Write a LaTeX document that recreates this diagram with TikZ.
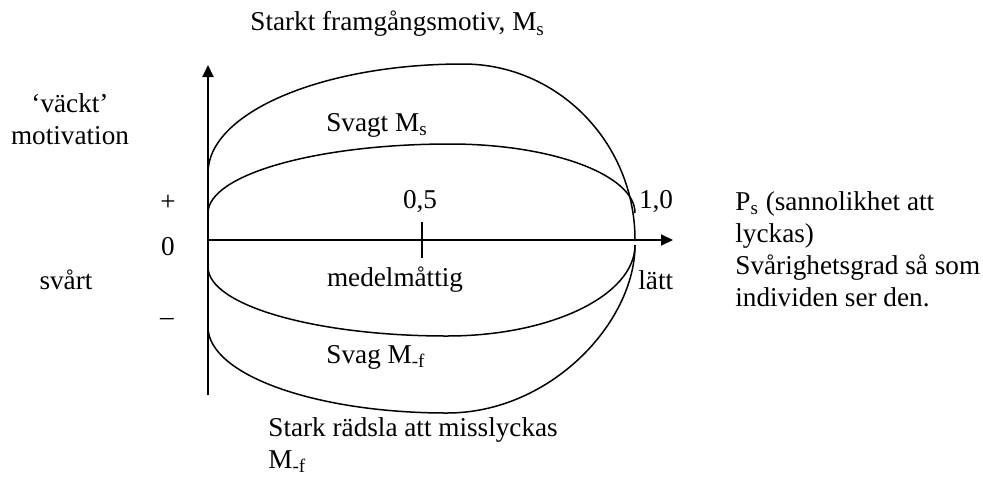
\documentclass[tikz,border=0pt]{standalone}
\usepackage{fontspec}
\setmainfont{Liberation Serif}
\usetikzlibrary{arrows.meta,positioning}

\begin{document}
\begin{tikzpicture}[x=0.5pt,y=-0.5pt,
    lbl/.style={inner sep=0pt,font=\fontsize{13.6}{16}\selectfont},
    axis/.style={line width=1pt,-{Triangle[length=6pt,width=5.5pt]}},
    curve/.style={line width=0.75pt}]
  \useasboundingbox (0,0) rectangle (983,477);
  % axes
  \coordinate (o) at (208,240);
  \coordinate (ytop) at (208,65);
  \coordinate (ybot) at (208,395);
  \coordinate (xtop) at (673,240);
  \coordinate (one) at (635,240);
  \draw[axis] (ybot) -- (ytop);
  \draw[axis] (o) -- (xtop);
  \draw[line width=1pt] (422,222) -- (422,258);
  % the four curves
  \draw[curve] (208,173) .. controls (208,112.8) and (322,64) .. (463,64)
    .. controls (558,64) and (635,142.8) .. (one);
  \draw[curve] (208,213) .. controls (208,174.9) and (316,144) .. (450,144)
    .. controls (552,144) and (635,174.9) .. (635,213);
  \draw[curve] (208,267) .. controls (208,305.1) and (315,336) .. (447,336)
    .. controls (551,336) and (635,295.3) .. (635,245);
  \draw[curve] (208,327) .. controls (208,374.5) and (315,413) .. (447,413)
    .. controls (551,413) and (635,322) .. (635,245);
  % labels
  \node[lbl,anchor=west] (title) at (250,24) {Starkt framgångsmotiv, M\textsubscript{s}};
  \node[lbl,align=center] (vackt) at (70,119) {‘väckt’\\motivation};
  \node[lbl] (zero) at (168,247) {0};
  \node[lbl] (plus) at (168,203) {+};
  \node[lbl] (minus) at (167,322) {–};
  \node[lbl] (svart) at (66,280) {svårt};
  \node[lbl] (half) at (420,202) {0,5};
  \node[lbl] (onelbl) at (656,202) {1,0};
  \node[lbl] (svagt) at (377,125) {Svagt M\textsubscript{s}};
  \node[lbl] (medel) at (395,280) {medelmåttig};
  \node[lbl,anchor=west] (latt) at (638,280) {lätt};
  \node[lbl] (svag) at (376,357) {Svag M\textsubscript{-f}};
  \node[lbl,anchor=west,align=left] (stark) at (268,445)
    {Stark rädsla att misslyckas\\M\textsubscript{-f}};
  \node[lbl,anchor=west,align=left] (ps) at (735,249)
    {P\textsubscript{s} (sannolikhet att\\lyckas)\\Svårighetsgrad så som\\individen ser den.};
\end{tikzpicture}
\end{document}
